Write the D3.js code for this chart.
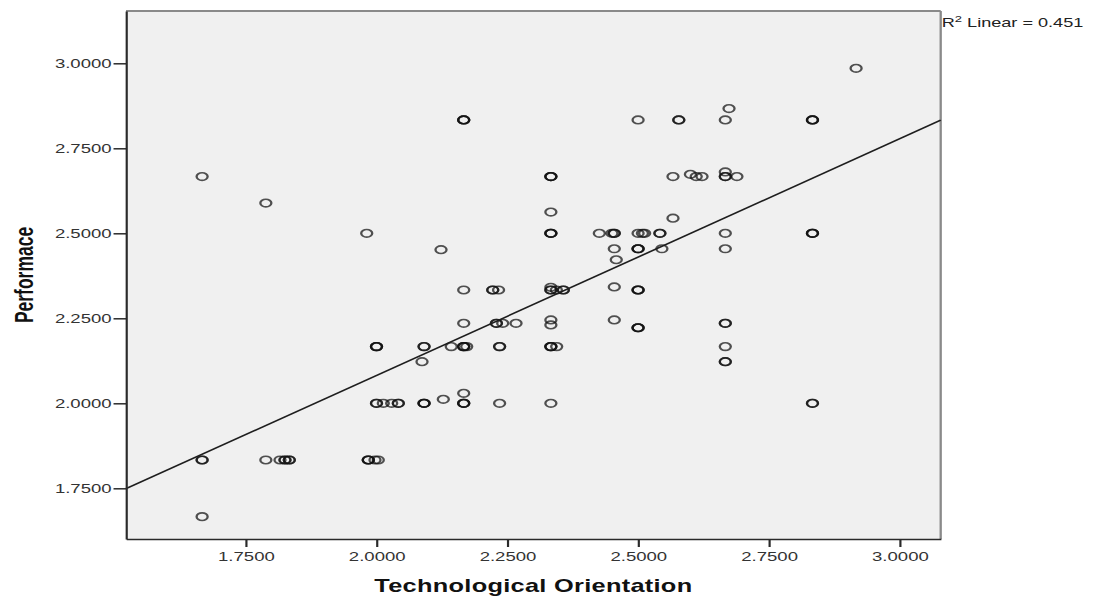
<!DOCTYPE html>
<html>
<head>
<meta charset="utf-8">
<script src="https://cdn.jsdelivr.net/npm/d3@7"></script>
<style>
  html, body { margin: 0; padding: 0; background: #ffffff; }
  svg { display: block; }
</style>
</head>
<body>
<svg id="chart"></svg>
<script>
// Respondent scores: Technological Orientation (x) vs Performace (y)
const techOrientation = [
  2.9167, 2.6738, 2.1667, 2.1667, 2.1667, 2.5, 2.5778, 2.5778, 2.6667, 2.8333, 2.8333, 2.8333,
  1.6667, 2.3333, 2.3333, 2.3333, 2.5667, 2.6, 2.6111, 2.6222, 2.6667, 2.6667, 2.6667, 2.6889,
  1.7885, 2.3333, 2.5667,
  1.9813, 2.3333, 2.3333, 2.3333, 2.4259, 2.45, 2.4545, 2.4545, 2.5, 2.5083, 2.5125, 2.5417, 2.5417, 2.6667, 2.8333, 2.8333, 2.8333,
  2.1233, 2.4545, 2.5, 2.5, 2.5, 2.5455, 2.6667, 2.4583,
  2.1667, 2.2222, 2.2222, 2.2333, 2.3333, 2.3333, 2.3333, 2.3438, 2.3571, 2.3571, 2.4545, 2.5, 2.5, 2.5,
  2.1667, 2.2292, 2.2292, 2.2412, 2.2667, 2.3333, 2.3333, 2.4545, 2.5, 2.5, 2.5, 2.6667, 2.6667,
  2.0, 2.0, 2.0, 2.0909, 2.0909, 2.1429, 2.1667, 2.1667, 2.1667, 2.1724, 2.2353, 2.2353, 2.3333, 2.3333, 2.3333, 2.3444, 2.6667,
  2.0870, 2.6667, 2.6667, 2.1667, 2.1277,
  2.0, 2.0, 2.013, 2.029, 2.0417, 2.0417, 2.0909, 2.0909, 2.0909, 2.1667, 2.1667, 2.1667, 2.2353, 2.3333, 2.8333, 2.8333,
  1.6667, 1.6667, 1.7885, 1.8156, 1.8251, 1.8251, 1.8333, 1.8333, 1.9843, 1.9843, 1.9843, 1.9971, 2.0034,
  1.6667
];
const performance = [
  2.9853, 2.8667, 2.8333, 2.8333, 2.8333, 2.8333, 2.8333, 2.8333, 2.8333, 2.8333, 2.8333, 2.8333,
  2.6667, 2.6667, 2.6667, 2.6667, 2.6667, 2.6735, 2.6667, 2.6667, 2.6806, 2.6667, 2.6667, 2.6667,
  2.5889, 2.5625, 2.5444,
  2.5, 2.5, 2.5, 2.5, 2.5, 2.5, 2.5, 2.5, 2.5, 2.5, 2.5, 2.5, 2.5, 2.5, 2.5, 2.5, 2.5,
  2.4518, 2.4545, 2.4545, 2.4545, 2.4545, 2.4545, 2.4545, 2.4222,
  2.3333, 2.3333, 2.3333, 2.3333, 2.3333, 2.3333, 2.3412, 2.3333, 2.3333, 2.3333, 2.3422, 2.3333, 2.3333, 2.3333,
  2.2353, 2.2353, 2.2353, 2.2353, 2.2353, 2.2451, 2.2304, 2.2451, 2.2222, 2.2222, 2.2222, 2.2353, 2.2353,
  2.1667, 2.1667, 2.1667, 2.1667, 2.1667, 2.1667, 2.1667, 2.1667, 2.1667, 2.1667, 2.1667, 2.1667, 2.1667, 2.1667, 2.1667, 2.1667, 2.1667,
  2.1224, 2.1224, 2.1224, 2.0294, 2.0118,
  2.0, 2.0, 2.0, 2.0, 2.0, 2.0, 2.0, 2.0, 2.0, 2.0, 2.0, 2.0, 2.0, 2.0, 2.0, 2.0,
  1.8333, 1.8333, 1.8333, 1.8333, 1.8333, 1.8333, 1.8333, 1.8333, 1.8333, 1.8333, 1.8333, 1.8333, 1.8333,
  1.6667
];
const xTickValues = [1.75, 2.0, 2.25, 2.5, 2.75, 3.0];
const yTickValues = [1.75, 2.0, 2.25, 2.5, 2.75, 3.0];
// Linear fit: [intercept, slope]
const fitCoefficients = [0.690, 0.696];
const rSquared = 0.451;

const points = techOrientation.map((v, i) => ({ x: v, y: performance[i] }));

// The drawing is laid out in a horizontally compressed space and stretched to the window
const W = 1100, H = 598, SX = 1.45;
const VW = W / SX;
const svg = d3.select('#chart')
  .attr('width', W).attr('height', H)
  .attr('viewBox', `0 0 ${VW} ${H}`)
  .attr('preserveAspectRatio', 'none');

const FONT = "'Liberation Sans', Arial, Helvetica, sans-serif";
const plot = { left: 126 / SX, right: 940.7 / SX, top: 11, bottom: 539 };

const x = d3.scaleLinear().domain([1.5212, 3.0784]).range([plot.left, plot.right]);
const y = d3.scaleLinear().domain([1.6009, 3.1538]).range([plot.bottom, plot.top]);

// plot background and frame
svg.append('rect')
  .attr('x', plot.left).attr('y', plot.top)
  .attr('width', plot.right - plot.left).attr('height', plot.bottom - plot.top)
  .attr('fill', '#f0f0f0');
svg.append('line')
  .attr('x1', plot.left).attr('x2', plot.right).attr('y1', plot.top).attr('y2', plot.top)
  .attr('stroke', '#8a8a8a').attr('stroke-width', 1.8);
svg.append('line')
  .attr('x1', plot.right).attr('x2', plot.right).attr('y1', plot.top).attr('y2', plot.bottom)
  .attr('stroke', '#8a8a8a').attr('stroke-width', 1.6);

// scatter markers
svg.append('g')
  .selectAll('circle')
  .data(points)
  .join('circle')
  .attr('cx', d => x(d.x))
  .attr('cy', d => y(d.y))
  .attr('r', 3.8)
  .attr('fill', 'none')
  .attr('stroke', '#111')
  .attr('stroke-opacity', 0.72)
  .attr('stroke-width', 1.6);

// fit line across the plot
const [b0, b1] = fitCoefficients;
const xd = x.domain();
svg.append('line')
  .attr('x1', x(xd[0])).attr('y1', y(b0 + b1 * xd[0]))
  .attr('x2', x(xd[1])).attr('y2', y(b0 + b1 * xd[1]))
  .attr('stroke', '#1e1e1e')
  .attr('stroke-width', 1.5);

// axes
const fmt = d3.format('.4f');
const yAxis = svg.append('g')
  .attr('transform', `translate(${plot.left},0)`)
  .call(d3.axisLeft(y).tickValues(yTickValues).tickFormat(fmt)
    .tickSize(8.6).tickSizeOuter(0).tickPadding(1.3));
const xAxis = svg.append('g')
  .attr('transform', `translate(0,${plot.bottom})`)
  .call(d3.axisBottom(x).tickValues(xTickValues).tickFormat(fmt)
    .tickSize(8).tickSizeOuter(0).tickPadding(4.6));

[yAxis, xAxis].forEach(g => {
  g.select('.domain').attr('stroke', '#2a2a2a').attr('stroke-width', 1.5);
  g.selectAll('.tick line').attr('stroke', '#2a2a2a').attr('stroke-width', 1.5);
  g.selectAll('.tick text')
    .attr('fill', '#333')
    .style('font-family', FONT)
    .style('font-size', '12.8px');
});

// axis titles
svg.append('text')
  .attr('x', (plot.left + plot.right) / 2)
  .attr('y', 592)
  .attr('text-anchor', 'middle')
  .style('font-family', FONT)
  .style('font-size', '17.5px')
  .style('font-weight', 'bold')
  .style('letter-spacing', '0.2px')
  .attr('fill', '#111')
  .text('Technological Orientation');

svg.append('text')
  .attr('transform', `translate(${33 / SX},${(plot.top + plot.bottom) / 2}) rotate(-90)`)
  .attr('text-anchor', 'middle')
  .style('font-family', FONT)
  .style('font-size', '17.5px')
  .style('font-weight', 'bold')
  .attr('fill', '#111')
  .text('Performace');

// fit annotation
const note = svg.append('text')
  .attr('x', plot.right + 0.7)
  .attr('y', 27)
  .style('font-family', FONT)
  .style('font-size', '12.5px')
  .attr('fill', '#222');
note.append('tspan').text('R');
note.append('tspan').attr('dy', -5).style('font-size', '9px').text('2');
note.append('tspan').attr('dy', 5).text(` Linear = ${d3.format('.3f')(rSquared)}`);
</script>
</body>
</html>
